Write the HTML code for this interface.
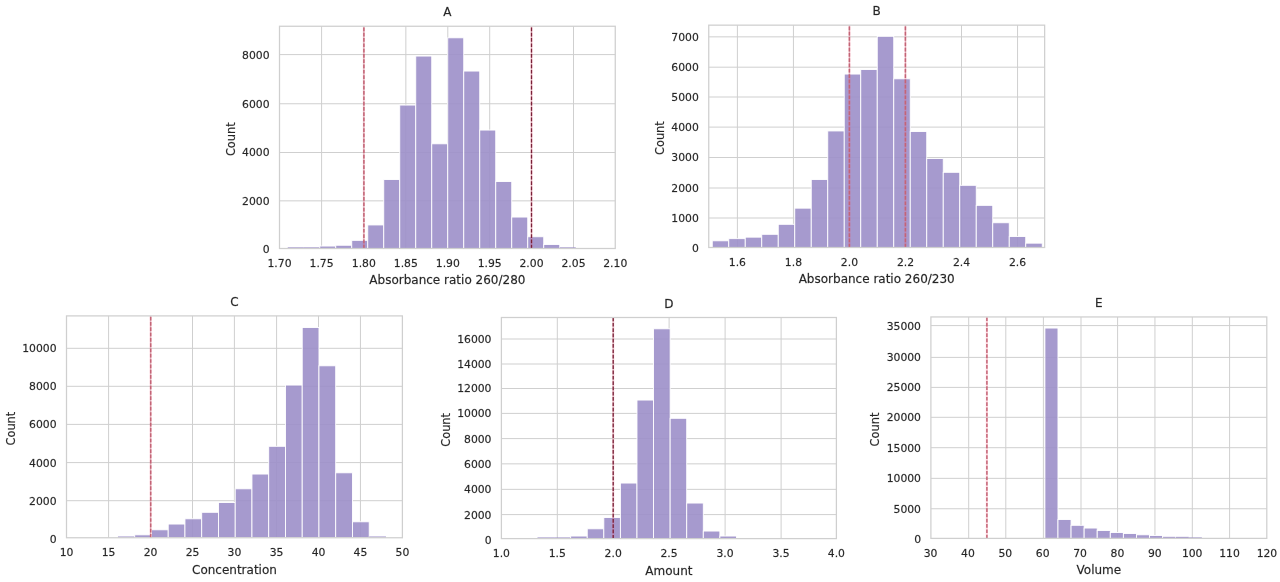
<!DOCTYPE html>
<html lang="en"><head><meta charset="utf-8"><title>Histograms A-E</title>
<style>html,body{margin:0;padding:0;background:#fff;}body{width:1280px;height:582px;overflow:hidden;}svg{display:block;}text{font-family:"DejaVu Sans","Liberation Sans",sans-serif;fill:#262626;stroke:#262626;stroke-width:0.3px;stroke-opacity:0.55;}.t{font-size:10.8px;}.l{font-size:12px;}</style></head><body>
<svg width="1280" height="582" viewBox="0 0 1280 582">
<g>
<rect width="1280" height="582" fill="#ffffff"/>
<g>
<path d="M321.60 26.25V248.50M363.80 26.25V248.50M405.85 26.25V248.50M447.80 26.25V248.50M489.70 26.25V248.50M531.50 26.25V248.50M573.50 26.25V248.50M279.50 200.85H615.25M279.50 152.50H615.25M279.50 103.75H615.25M279.50 54.60H615.25" stroke="#cfcfcf" stroke-width="1" fill="none"/>
<rect x="287.75" y="247.30" width="16.00" height="1.20" fill="#9c8fc9" fill-opacity="0.9" stroke="#ffffff" stroke-width="0"/>
<rect x="303.75" y="247.30" width="16.00" height="1.20" fill="#9c8fc9" fill-opacity="0.9" stroke="#ffffff" stroke-width="0"/>
<rect x="319.75" y="246.05" width="16.00" height="2.45" fill="#9c8fc9" fill-opacity="0.9" stroke="#ffffff" stroke-width="0.9"/>
<rect x="335.75" y="245.25" width="16.00" height="3.25" fill="#9c8fc9" fill-opacity="0.9" stroke="#ffffff" stroke-width="0.9"/>
<rect x="351.75" y="240.35" width="16.00" height="8.15" fill="#9c8fc9" fill-opacity="0.9" stroke="#ffffff" stroke-width="0.9"/>
<rect x="367.75" y="224.95" width="16.00" height="23.55" fill="#9c8fc9" fill-opacity="0.9" stroke="#ffffff" stroke-width="0.9"/>
<rect x="383.75" y="179.55" width="16.00" height="68.95" fill="#9c8fc9" fill-opacity="0.9" stroke="#ffffff" stroke-width="0.9"/>
<rect x="399.75" y="105.05" width="16.00" height="143.45" fill="#9c8fc9" fill-opacity="0.9" stroke="#ffffff" stroke-width="0.9"/>
<rect x="415.75" y="56.05" width="16.00" height="192.45" fill="#9c8fc9" fill-opacity="0.9" stroke="#ffffff" stroke-width="0.9"/>
<rect x="431.75" y="143.80" width="16.00" height="104.70" fill="#9c8fc9" fill-opacity="0.9" stroke="#ffffff" stroke-width="0.9"/>
<rect x="447.75" y="37.80" width="16.00" height="210.70" fill="#9c8fc9" fill-opacity="0.9" stroke="#ffffff" stroke-width="0.9"/>
<rect x="463.75" y="71.05" width="16.00" height="177.45" fill="#9c8fc9" fill-opacity="0.9" stroke="#ffffff" stroke-width="0.9"/>
<rect x="479.75" y="130.05" width="16.00" height="118.45" fill="#9c8fc9" fill-opacity="0.9" stroke="#ffffff" stroke-width="0.9"/>
<rect x="495.75" y="181.55" width="16.00" height="66.95" fill="#9c8fc9" fill-opacity="0.9" stroke="#ffffff" stroke-width="0.9"/>
<rect x="511.75" y="217.05" width="16.00" height="31.45" fill="#9c8fc9" fill-opacity="0.9" stroke="#ffffff" stroke-width="0.9"/>
<rect x="527.75" y="236.75" width="16.00" height="11.75" fill="#9c8fc9" fill-opacity="0.9" stroke="#ffffff" stroke-width="0.9"/>
<rect x="543.75" y="244.45" width="16.00" height="4.05" fill="#9c8fc9" fill-opacity="0.9" stroke="#ffffff" stroke-width="0.9"/>
<rect x="559.75" y="247.30" width="16.00" height="1.20" fill="#9c8fc9" fill-opacity="0.9" stroke="#ffffff" stroke-width="0"/>
<path d="M363.90 248.50V26.25" stroke="#ff5078" stroke-opacity="0.22" stroke-width="2.2" fill="none"/>
<path d="M363.90 248.50V26.25" stroke="#c36476" stroke-width="1.5" stroke-dasharray="3.7 1.6" fill="none"/>
<path d="M531.50 248.50V26.25" stroke="#ff5078" stroke-opacity="0.22" stroke-width="2.2" fill="none"/>
<path d="M531.50 248.50V26.25" stroke="#7a2038" stroke-width="1.3" stroke-dasharray="3.7 1.6" fill="none"/>
<rect x="279.50" y="26.25" width="335.75" height="222.25" fill="none" stroke="#cfcfcf" stroke-width="1.25"/>
<text class="t" x="279.50" y="267.00" text-anchor="middle">1.70</text>
<text class="t" x="321.60" y="267.00" text-anchor="middle">1.75</text>
<text class="t" x="363.80" y="267.00" text-anchor="middle">1.80</text>
<text class="t" x="405.85" y="267.00" text-anchor="middle">1.85</text>
<text class="t" x="447.80" y="267.00" text-anchor="middle">1.90</text>
<text class="t" x="489.70" y="267.00" text-anchor="middle">1.95</text>
<text class="t" x="531.50" y="267.00" text-anchor="middle">2.00</text>
<text class="t" x="573.50" y="267.00" text-anchor="middle">2.05</text>
<text class="t" x="615.25" y="267.00" text-anchor="middle">2.10</text>
<text class="t" x="269.60" y="253.25" text-anchor="end">0</text>
<text class="t" x="269.60" y="204.80" text-anchor="end">2000</text>
<text class="t" x="269.60" y="156.45" text-anchor="end">4000</text>
<text class="t" x="269.60" y="107.70" text-anchor="end">6000</text>
<text class="t" x="269.60" y="58.55" text-anchor="end">8000</text>
<text class="l" x="447.38" y="284.40" text-anchor="middle">Absorbance ratio 260/280</text>
<text class="l" x="447.38" y="16.45" text-anchor="middle">A</text>
<text class="l" transform="translate(234.80 139.18) rotate(-90) scale(0.95 1)" text-anchor="middle">Count</text>
</g>
<g>
<path d="M737.40 25.15V247.50M793.43 25.15V247.50M849.46 25.15V247.50M905.49 25.15V247.50M961.52 25.15V247.50M1017.55 25.15V247.50M708.75 218.00H1044.65M708.75 188.00H1044.65M708.75 157.50H1044.65M708.75 127.10H1044.65M708.75 97.00H1044.65M708.75 67.20H1044.65M708.75 36.85H1044.65" stroke="#cfcfcf" stroke-width="1" fill="none"/>
<rect x="712.25" y="240.80" width="16.50" height="6.70" fill="#9c8fc9" fill-opacity="0.9" stroke="#ffffff" stroke-width="0.9"/>
<rect x="728.75" y="238.65" width="16.50" height="8.85" fill="#9c8fc9" fill-opacity="0.9" stroke="#ffffff" stroke-width="0.9"/>
<rect x="745.25" y="237.15" width="16.50" height="10.35" fill="#9c8fc9" fill-opacity="0.9" stroke="#ffffff" stroke-width="0.9"/>
<rect x="761.75" y="234.30" width="16.50" height="13.20" fill="#9c8fc9" fill-opacity="0.9" stroke="#ffffff" stroke-width="0.9"/>
<rect x="778.25" y="224.30" width="16.50" height="23.20" fill="#9c8fc9" fill-opacity="0.9" stroke="#ffffff" stroke-width="0.9"/>
<rect x="794.75" y="208.15" width="16.50" height="39.35" fill="#9c8fc9" fill-opacity="0.9" stroke="#ffffff" stroke-width="0.9"/>
<rect x="811.25" y="179.55" width="16.50" height="67.95" fill="#9c8fc9" fill-opacity="0.9" stroke="#ffffff" stroke-width="0.9"/>
<rect x="827.75" y="130.95" width="16.50" height="116.55" fill="#9c8fc9" fill-opacity="0.9" stroke="#ffffff" stroke-width="0.9"/>
<rect x="844.25" y="74.05" width="16.50" height="173.45" fill="#9c8fc9" fill-opacity="0.9" stroke="#ffffff" stroke-width="0.9"/>
<rect x="860.75" y="69.55" width="16.50" height="177.95" fill="#9c8fc9" fill-opacity="0.9" stroke="#ffffff" stroke-width="0.9"/>
<rect x="877.25" y="36.30" width="16.50" height="211.20" fill="#9c8fc9" fill-opacity="0.9" stroke="#ffffff" stroke-width="0.9"/>
<rect x="893.75" y="78.80" width="16.50" height="168.70" fill="#9c8fc9" fill-opacity="0.9" stroke="#ffffff" stroke-width="0.9"/>
<rect x="910.25" y="131.55" width="16.50" height="115.95" fill="#9c8fc9" fill-opacity="0.9" stroke="#ffffff" stroke-width="0.9"/>
<rect x="926.75" y="158.55" width="16.50" height="88.95" fill="#9c8fc9" fill-opacity="0.9" stroke="#ffffff" stroke-width="0.9"/>
<rect x="943.25" y="172.30" width="16.50" height="75.20" fill="#9c8fc9" fill-opacity="0.9" stroke="#ffffff" stroke-width="0.9"/>
<rect x="959.75" y="185.30" width="16.50" height="62.20" fill="#9c8fc9" fill-opacity="0.9" stroke="#ffffff" stroke-width="0.9"/>
<rect x="976.25" y="205.35" width="16.50" height="42.15" fill="#9c8fc9" fill-opacity="0.9" stroke="#ffffff" stroke-width="0.9"/>
<rect x="992.75" y="222.75" width="16.50" height="24.75" fill="#9c8fc9" fill-opacity="0.9" stroke="#ffffff" stroke-width="0.9"/>
<rect x="1009.25" y="236.55" width="16.50" height="10.95" fill="#9c8fc9" fill-opacity="0.9" stroke="#ffffff" stroke-width="0.9"/>
<rect x="1025.75" y="243.15" width="16.50" height="4.35" fill="#9c8fc9" fill-opacity="0.9" stroke="#ffffff" stroke-width="0.9"/>
<path d="M849.40 247.50V25.15" stroke="#ff5078" stroke-opacity="0.22" stroke-width="2.2" fill="none"/>
<path d="M849.40 247.50V25.15" stroke="#c36476" stroke-width="1.5" stroke-dasharray="3.7 1.6" fill="none"/>
<path d="M905.40 247.50V25.15" stroke="#ff5078" stroke-opacity="0.22" stroke-width="2.2" fill="none"/>
<path d="M905.40 247.50V25.15" stroke="#c36476" stroke-width="1.5" stroke-dasharray="3.7 1.6" fill="none"/>
<rect x="708.75" y="25.15" width="335.90" height="222.35" fill="none" stroke="#cfcfcf" stroke-width="1.25"/>
<text class="t" x="737.40" y="266.00" text-anchor="middle">1.6</text>
<text class="t" x="793.43" y="266.00" text-anchor="middle">1.8</text>
<text class="t" x="849.46" y="266.00" text-anchor="middle">2.0</text>
<text class="t" x="905.49" y="266.00" text-anchor="middle">2.2</text>
<text class="t" x="961.52" y="266.00" text-anchor="middle">2.4</text>
<text class="t" x="1017.55" y="266.00" text-anchor="middle">2.6</text>
<text class="t" x="698.85" y="252.15" text-anchor="end">0</text>
<text class="t" x="698.85" y="221.95" text-anchor="end">1000</text>
<text class="t" x="698.85" y="191.95" text-anchor="end">2000</text>
<text class="t" x="698.85" y="161.45" text-anchor="end">3000</text>
<text class="t" x="698.85" y="131.05" text-anchor="end">4000</text>
<text class="t" x="698.85" y="100.95" text-anchor="end">5000</text>
<text class="t" x="698.85" y="71.15" text-anchor="end">6000</text>
<text class="t" x="698.85" y="40.80" text-anchor="end">7000</text>
<text class="l" x="876.70" y="283.40" text-anchor="middle">Absorbance ratio 260/230</text>
<text class="l" x="876.70" y="15.35" text-anchor="middle">B</text>
<text class="l" transform="translate(664.05 138.12) rotate(-90) scale(0.95 1)" text-anchor="middle">Count</text>
</g>
<g>
<path d="M108.60 315.90V537.75M150.60 315.90V537.75M192.50 315.90V537.75M234.40 315.90V537.75M276.60 315.90V537.75M318.50 315.90V537.75M360.45 315.90V537.75M66.50 500.70H402.40M66.50 462.60H402.40M66.50 424.40H402.40M66.50 386.30H402.40M66.50 348.30H402.40" stroke="#cfcfcf" stroke-width="1" fill="none"/>
<rect x="117.96" y="536.45" width="16.75" height="1.30" fill="#9c8fc9" fill-opacity="0.9" stroke="#ffffff" stroke-width="0"/>
<rect x="134.71" y="534.85" width="16.75" height="2.90" fill="#9c8fc9" fill-opacity="0.9" stroke="#ffffff" stroke-width="0.9"/>
<rect x="151.46" y="529.80" width="16.75" height="7.95" fill="#9c8fc9" fill-opacity="0.9" stroke="#ffffff" stroke-width="0.9"/>
<rect x="168.21" y="524.05" width="16.75" height="13.70" fill="#9c8fc9" fill-opacity="0.9" stroke="#ffffff" stroke-width="0.9"/>
<rect x="184.96" y="518.80" width="16.75" height="18.95" fill="#9c8fc9" fill-opacity="0.9" stroke="#ffffff" stroke-width="0.9"/>
<rect x="201.71" y="512.30" width="16.75" height="25.45" fill="#9c8fc9" fill-opacity="0.9" stroke="#ffffff" stroke-width="0.9"/>
<rect x="218.46" y="502.55" width="16.75" height="35.20" fill="#9c8fc9" fill-opacity="0.9" stroke="#ffffff" stroke-width="0.9"/>
<rect x="235.21" y="488.80" width="16.75" height="48.95" fill="#9c8fc9" fill-opacity="0.9" stroke="#ffffff" stroke-width="0.9"/>
<rect x="251.96" y="474.05" width="16.75" height="63.70" fill="#9c8fc9" fill-opacity="0.9" stroke="#ffffff" stroke-width="0.9"/>
<rect x="268.71" y="446.30" width="16.75" height="91.45" fill="#9c8fc9" fill-opacity="0.9" stroke="#ffffff" stroke-width="0.9"/>
<rect x="285.46" y="385.05" width="16.75" height="152.70" fill="#9c8fc9" fill-opacity="0.9" stroke="#ffffff" stroke-width="0.9"/>
<rect x="302.21" y="327.55" width="16.75" height="210.20" fill="#9c8fc9" fill-opacity="0.9" stroke="#ffffff" stroke-width="0.9"/>
<rect x="318.96" y="365.80" width="16.75" height="171.95" fill="#9c8fc9" fill-opacity="0.9" stroke="#ffffff" stroke-width="0.9"/>
<rect x="335.71" y="472.80" width="16.75" height="64.95" fill="#9c8fc9" fill-opacity="0.9" stroke="#ffffff" stroke-width="0.9"/>
<rect x="352.46" y="521.80" width="16.75" height="15.95" fill="#9c8fc9" fill-opacity="0.9" stroke="#ffffff" stroke-width="0.9"/>
<rect x="369.21" y="536.45" width="16.75" height="1.30" fill="#9c8fc9" fill-opacity="0.9" stroke="#ffffff" stroke-width="0"/>
<path d="M150.70 537.75V315.90" stroke="#ff5078" stroke-opacity="0.22" stroke-width="2.2" fill="none"/>
<path d="M150.70 537.75V315.90" stroke="#c36476" stroke-width="1.5" stroke-dasharray="3.7 1.6" fill="none"/>
<rect x="66.50" y="315.90" width="335.90" height="221.85" fill="none" stroke="#cfcfcf" stroke-width="1.25"/>
<text class="t" x="66.50" y="556.25" text-anchor="middle">10</text>
<text class="t" x="108.60" y="556.25" text-anchor="middle">15</text>
<text class="t" x="150.60" y="556.25" text-anchor="middle">20</text>
<text class="t" x="192.50" y="556.25" text-anchor="middle">25</text>
<text class="t" x="234.40" y="556.25" text-anchor="middle">30</text>
<text class="t" x="276.60" y="556.25" text-anchor="middle">35</text>
<text class="t" x="318.50" y="556.25" text-anchor="middle">40</text>
<text class="t" x="360.45" y="556.25" text-anchor="middle">45</text>
<text class="t" x="402.40" y="556.25" text-anchor="middle">50</text>
<text class="t" x="56.60" y="542.65" text-anchor="end">0</text>
<text class="t" x="56.60" y="504.65" text-anchor="end">2000</text>
<text class="t" x="56.60" y="466.55" text-anchor="end">4000</text>
<text class="t" x="56.60" y="428.35" text-anchor="end">6000</text>
<text class="t" x="56.60" y="390.25" text-anchor="end">8000</text>
<text class="t" x="56.60" y="352.25" text-anchor="end">10000</text>
<text class="l" x="234.45" y="573.65" text-anchor="middle">Concentration</text>
<text class="l" x="234.45" y="306.10" text-anchor="middle">C</text>
<text class="l" transform="translate(14.80 428.62) rotate(-90) scale(0.95 1)" text-anchor="middle">Count</text>
</g>
<g>
<path d="M557.30 317.50V538.60M613.20 317.50V538.60M669.10 317.50V538.60M725.10 317.50V538.60M781.10 317.50V538.60M501.40 514.60H836.40M501.40 489.35H836.40M501.40 463.85H836.40M501.40 438.60H836.40M501.40 413.40H836.40M501.40 388.50H836.40M501.40 364.00H836.40M501.40 339.00H836.40" stroke="#cfcfcf" stroke-width="1" fill="none"/>
<rect x="537.50" y="537.40" width="16.58" height="1.20" fill="#9c8fc9" fill-opacity="0.9" stroke="#ffffff" stroke-width="0"/>
<rect x="554.08" y="537.40" width="16.58" height="1.20" fill="#9c8fc9" fill-opacity="0.9" stroke="#ffffff" stroke-width="0"/>
<rect x="570.66" y="536.05" width="16.58" height="2.55" fill="#9c8fc9" fill-opacity="0.9" stroke="#ffffff" stroke-width="0.9"/>
<rect x="587.24" y="528.80" width="16.58" height="9.80" fill="#9c8fc9" fill-opacity="0.9" stroke="#ffffff" stroke-width="0.9"/>
<rect x="603.82" y="517.55" width="16.58" height="21.05" fill="#9c8fc9" fill-opacity="0.9" stroke="#ffffff" stroke-width="0.9"/>
<rect x="620.40" y="483.05" width="16.58" height="55.55" fill="#9c8fc9" fill-opacity="0.9" stroke="#ffffff" stroke-width="0.9"/>
<rect x="636.98" y="400.05" width="16.58" height="138.55" fill="#9c8fc9" fill-opacity="0.9" stroke="#ffffff" stroke-width="0.9"/>
<rect x="653.56" y="328.80" width="16.58" height="209.80" fill="#9c8fc9" fill-opacity="0.9" stroke="#ffffff" stroke-width="0.9"/>
<rect x="670.14" y="418.30" width="16.58" height="120.30" fill="#9c8fc9" fill-opacity="0.9" stroke="#ffffff" stroke-width="0.9"/>
<rect x="686.72" y="503.05" width="16.58" height="35.55" fill="#9c8fc9" fill-opacity="0.9" stroke="#ffffff" stroke-width="0.9"/>
<rect x="703.30" y="531.05" width="16.58" height="7.55" fill="#9c8fc9" fill-opacity="0.9" stroke="#ffffff" stroke-width="0.9"/>
<rect x="719.88" y="536.05" width="16.58" height="2.55" fill="#9c8fc9" fill-opacity="0.9" stroke="#ffffff" stroke-width="0.9"/>
<path d="M613.20 538.60V317.50" stroke="#ff5078" stroke-opacity="0.22" stroke-width="2.2" fill="none"/>
<path d="M613.20 538.60V317.50" stroke="#7a2038" stroke-width="1.3" stroke-dasharray="3.7 1.6" fill="none"/>
<rect x="501.40" y="317.50" width="335.00" height="221.10" fill="none" stroke="#cfcfcf" stroke-width="1.25"/>
<text class="t" x="501.40" y="557.10" text-anchor="middle">1.0</text>
<text class="t" x="557.30" y="557.10" text-anchor="middle">1.5</text>
<text class="t" x="613.20" y="557.10" text-anchor="middle">2.0</text>
<text class="t" x="669.10" y="557.10" text-anchor="middle">2.5</text>
<text class="t" x="725.10" y="557.10" text-anchor="middle">3.0</text>
<text class="t" x="781.10" y="557.10" text-anchor="middle">3.5</text>
<text class="t" x="836.40" y="557.10" text-anchor="middle">4.0</text>
<text class="t" x="491.50" y="543.55" text-anchor="end">0</text>
<text class="t" x="491.50" y="518.55" text-anchor="end">2000</text>
<text class="t" x="491.50" y="493.30" text-anchor="end">4000</text>
<text class="t" x="491.50" y="467.80" text-anchor="end">6000</text>
<text class="t" x="491.50" y="442.55" text-anchor="end">8000</text>
<text class="t" x="491.50" y="417.35" text-anchor="end">10000</text>
<text class="t" x="491.50" y="392.45" text-anchor="end">12000</text>
<text class="t" x="491.50" y="367.95" text-anchor="end">14000</text>
<text class="t" x="491.50" y="342.95" text-anchor="end">16000</text>
<text class="l" x="668.90" y="574.50" text-anchor="middle">Amount</text>
<text class="l" x="668.90" y="307.70" text-anchor="middle">D</text>
<text class="l" transform="translate(449.70 429.85) rotate(-90) scale(0.95 1)" text-anchor="middle">Count</text>
</g>
<g>
<path d="M968.70 316.95V538.40M1005.80 316.95V538.40M1043.40 316.95V538.40M1081.00 316.95V538.40M1117.60 316.95V538.40M1154.95 316.95V538.40M1192.30 316.95V538.40M1229.60 316.95V538.40M930.90 508.75H1266.80M930.90 478.35H1266.80M930.90 447.70H1266.80M930.90 417.30H1266.80M930.90 387.40H1266.80M930.90 357.40H1266.80M930.90 325.60H1266.80" stroke="#cfcfcf" stroke-width="1" fill="none"/>
<rect x="1044.90" y="328.05" width="13.08" height="210.35" fill="#9c8fc9" fill-opacity="0.9" stroke="#ffffff" stroke-width="0.9"/>
<rect x="1057.98" y="519.55" width="13.08" height="18.85" fill="#9c8fc9" fill-opacity="0.9" stroke="#ffffff" stroke-width="0.9"/>
<rect x="1071.06" y="525.30" width="13.08" height="13.10" fill="#9c8fc9" fill-opacity="0.9" stroke="#ffffff" stroke-width="0.9"/>
<rect x="1084.14" y="528.05" width="13.08" height="10.35" fill="#9c8fc9" fill-opacity="0.9" stroke="#ffffff" stroke-width="0.9"/>
<rect x="1097.22" y="530.55" width="13.08" height="7.85" fill="#9c8fc9" fill-opacity="0.9" stroke="#ffffff" stroke-width="0.9"/>
<rect x="1110.30" y="532.55" width="13.08" height="5.85" fill="#9c8fc9" fill-opacity="0.9" stroke="#ffffff" stroke-width="0.9"/>
<rect x="1123.38" y="533.55" width="13.08" height="4.85" fill="#9c8fc9" fill-opacity="0.9" stroke="#ffffff" stroke-width="0.9"/>
<rect x="1136.46" y="534.80" width="13.08" height="3.60" fill="#9c8fc9" fill-opacity="0.9" stroke="#ffffff" stroke-width="0.9"/>
<rect x="1149.54" y="535.55" width="13.08" height="2.85" fill="#9c8fc9" fill-opacity="0.9" stroke="#ffffff" stroke-width="0.9"/>
<rect x="1162.62" y="536.30" width="13.08" height="2.10" fill="#9c8fc9" fill-opacity="0.9" stroke="#ffffff" stroke-width="0.9"/>
<rect x="1175.70" y="536.85" width="13.08" height="1.55" fill="#9c8fc9" fill-opacity="0.9" stroke="#ffffff" stroke-width="0"/>
<rect x="1188.78" y="537.35" width="13.08" height="1.05" fill="#9c8fc9" fill-opacity="0.9" stroke="#ffffff" stroke-width="0"/>
<path d="M986.90 538.40V316.95" stroke="#ff5078" stroke-opacity="0.22" stroke-width="2.2" fill="none"/>
<path d="M986.90 538.40V316.95" stroke="#c36476" stroke-width="1.5" stroke-dasharray="3.7 1.6" fill="none"/>
<rect x="930.90" y="316.95" width="335.90" height="221.45" fill="none" stroke="#cfcfcf" stroke-width="1.25"/>
<text class="t" x="930.60" y="556.90" text-anchor="middle">30</text>
<text class="t" x="967.97" y="556.90" text-anchor="middle">40</text>
<text class="t" x="1005.34" y="556.90" text-anchor="middle">50</text>
<text class="t" x="1042.71" y="556.90" text-anchor="middle">60</text>
<text class="t" x="1080.08" y="556.90" text-anchor="middle">70</text>
<text class="t" x="1117.45" y="556.90" text-anchor="middle">80</text>
<text class="t" x="1154.82" y="556.90" text-anchor="middle">90</text>
<text class="t" x="1192.19" y="556.90" text-anchor="middle">100</text>
<text class="t" x="1229.56" y="556.90" text-anchor="middle">110</text>
<text class="t" x="1266.93" y="556.90" text-anchor="middle">120</text>
<text class="t" x="921.00" y="542.95" text-anchor="end">0</text>
<text class="t" x="921.00" y="512.70" text-anchor="end">5000</text>
<text class="t" x="921.00" y="482.30" text-anchor="end">10000</text>
<text class="t" x="921.00" y="451.65" text-anchor="end">15000</text>
<text class="t" x="921.00" y="421.25" text-anchor="end">20000</text>
<text class="t" x="921.00" y="391.35" text-anchor="end">25000</text>
<text class="t" x="921.00" y="361.35" text-anchor="end">30000</text>
<text class="t" x="921.00" y="329.55" text-anchor="end">35000</text>
<text class="l" x="1098.85" y="574.30" text-anchor="middle">Volume</text>
<text class="l" x="1098.85" y="307.15" text-anchor="middle">E</text>
<text class="l" transform="translate(879.20 429.47) rotate(-90) scale(0.95 1)" text-anchor="middle">Count</text>
</g>
</g></svg></body></html>
